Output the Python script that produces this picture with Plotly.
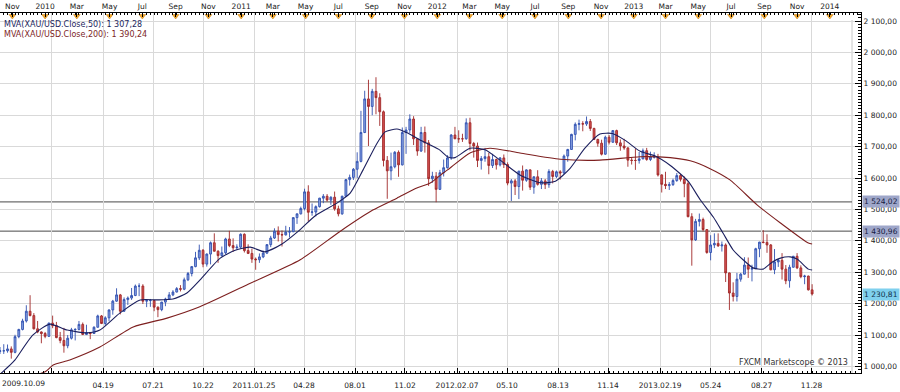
import plotly.graph_objects as go
import pandas as pd

# ---------------- data (weekly candles) ----------------
first_week = "2009-10-09"

week_open = [
    1048, 1050, 1050, 1056, 1045, 1095, 1118, 1145, 1176, 1162, 1120, 1110,
    1105, 1096, 1138, 1130, 1092, 1083, 1066, 1090, 1117, 1118, 1134, 1102, 1108,
    1105, 1125, 1161, 1137, 1155, 1180, 1208, 1228, 1176, 1213, 1218, 1226, 1256,
    1256, 1208, 1210, 1210, 1189, 1181, 1205, 1215, 1228, 1237, 1248, 1246, 1276,
    1296, 1318, 1346, 1370, 1326, 1358, 1394, 1367, 1353, 1362, 1406, 1385, 1378, 1380,
    1421, 1369, 1360, 1342, 1340, 1349, 1361, 1388, 1409, 1431, 1420, 1419,
    1428, 1429, 1474, 1486, 1503, 1556, 1491, 1492, 1509, 1536, 1542, 1530, 1539,
    1502, 1486, 1542, 1595, 1602, 1628, 1653, 1745, 1852, 1828, 1876, 1856, 1811, 1656,
    1623, 1636, 1682, 1642, 1745, 1753, 1788, 1725, 1686, 1745, 1712, 1598, 1606,
    1564, 1617, 1633, 1664, 1737, 1725, 1725, 1725, 1776, 1710, 1702, 1656, 1662,
    1668, 1640, 1659, 1642, 1664, 1643, 1584, 1591, 1573, 1622, 1593, 1626, 1571,
    1604, 1580, 1591, 1579, 1621, 1605, 1620, 1616, 1670, 1691, 1739, 1771, 1773,
    1772, 1780, 1758, 1723, 1711, 1676, 1730, 1714, 1751, 1712, 1702, 1696, 1657,
    1656, 1656, 1661, 1687, 1659, 1667, 1667, 1610, 1580, 1576, 1579, 1592, 1608,
    1596, 1582, 1477, 1403, 1462, 1468, 1436, 1363, 1387, 1392, 1384, 1387, 1298,
    1234, 1223, 1278, 1294, 1323, 1310, 1312, 1375, 1396, 1395, 1387, 1308, 1333,
    1338, 1310, 1273, 1316, 1351, 1314, 1286, 1288, 1244,
]
week_high = [
    1062, 1071, 1070, 1064, 1101, 1120, 1152, 1195, 1227, 1170, 1145, 1112,
    1110, 1140, 1162, 1142, 1110, 1123, 1100, 1123, 1122, 1145, 1140, 1133, 1110,
    1128, 1165, 1164, 1160, 1182, 1212, 1249, 1231, 1220, 1223, 1250, 1261, 1265,
    1262, 1214, 1215, 1212, 1191, 1206, 1219, 1237, 1243, 1253, 1259, 1283, 1301,
    1320, 1365, 1388, 1374, 1360, 1398, 1424, 1370, 1382, 1410, 1432, 1408, 1389, 1424,
    1424, 1389, 1375, 1347, 1360, 1369, 1390, 1416, 1440, 1446, 1433, 1448,
    1444, 1475, 1487, 1509, 1566, 1577, 1519, 1513, 1537, 1549, 1549, 1542, 1557,
    1512, 1544, 1597, 1611, 1632, 1682, 1814, 1878, 1913, 1884, 1921, 1870, 1815, 1670,
    1681, 1686, 1688, 1761, 1763, 1803, 1797, 1727, 1763, 1764, 1721, 1620, 1619,
    1626, 1659, 1673, 1740, 1763, 1752, 1741, 1790, 1792, 1715, 1713, 1670, 1696,
    1680, 1677, 1662, 1667, 1675, 1650, 1597, 1597, 1623, 1640, 1628, 1628, 1605,
    1625, 1600, 1597, 1628, 1626, 1624, 1625, 1675, 1693, 1741, 1777, 1786, 1781,
    1796, 1788, 1760, 1725, 1722, 1735, 1737, 1753, 1754, 1723, 1725, 1698, 1667,
    1694, 1683, 1694, 1696, 1684, 1682, 1677, 1612, 1620, 1587, 1598, 1616, 1613,
    1605, 1590, 1488, 1470, 1487, 1474, 1437, 1418, 1424, 1424, 1398, 1392, 1299,
    1268, 1298, 1298, 1348, 1347, 1324, 1378, 1397, 1434, 1421, 1390, 1374, 1343,
    1361, 1323, 1324, 1352, 1361, 1322, 1292, 1289, 1262,
]
week_low = [
    1040, 1040, 1044, 1025, 1042, 1090, 1115, 1140, 1160, 1118, 1106, 1074,
    1090, 1094, 1122, 1090, 1074, 1044, 1058, 1086, 1083, 1115, 1100, 1100, 1087,
    1104, 1124, 1135, 1130, 1144, 1165, 1206, 1166, 1174, 1196, 1212, 1224, 1224,
    1199, 1189, 1190, 1176, 1157, 1176, 1192, 1212, 1224, 1236, 1239, 1243, 1272,
    1287, 1316, 1339, 1316, 1318, 1325, 1366, 1330, 1350, 1357, 1380, 1365, 1372, 1375,
    1363, 1358, 1330, 1308, 1330, 1345, 1358, 1380, 1406, 1398, 1382, 1417,
    1411, 1428, 1454, 1484, 1497, 1462, 1480, 1478, 1506, 1520, 1525, 1515, 1496,
    1478, 1483, 1540, 1576, 1594, 1600, 1650, 1743, 1702, 1800, 1803, 1766, 1637, 1534,
    1593, 1631, 1604, 1640, 1677, 1743, 1705, 1671, 1683, 1681, 1575, 1585, 1523,
    1562, 1605, 1630, 1658, 1724, 1712, 1715, 1722, 1688, 1665, 1635, 1627, 1652,
    1612, 1632, 1627, 1637, 1632, 1577, 1527, 1546, 1533, 1560, 1588, 1562, 1550,
    1576, 1565, 1565, 1569, 1583, 1600, 1595, 1614, 1652, 1690, 1720, 1752, 1749,
    1766, 1750, 1721, 1700, 1672, 1674, 1707, 1712, 1705, 1687, 1690, 1636, 1643,
    1626, 1646, 1660, 1655, 1654, 1662, 1605, 1554, 1565, 1562, 1575, 1588, 1589,
    1539, 1475, 1321, 1400, 1446, 1430, 1359, 1338, 1377, 1381, 1366, 1269, 1180,
    1207, 1207, 1270, 1293, 1282, 1271, 1310, 1348, 1392, 1362, 1306, 1294, 1317,
    1277, 1262, 1251, 1315, 1310, 1281, 1262, 1242, 1226,
]
week_close = [
    1050, 1050, 1056, 1045, 1095, 1118, 1145, 1176, 1162, 1120, 1110, 1105,
    1096, 1138, 1130, 1092, 1083, 1066, 1090, 1117, 1118, 1134, 1102, 1108, 1105,
    1125, 1161, 1137, 1155, 1180, 1208, 1228, 1176, 1213, 1218, 1226, 1256, 1256,
    1208, 1210, 1210, 1189, 1181, 1205, 1215, 1228, 1237, 1248, 1246, 1276, 1296,
    1318, 1346, 1370, 1326, 1358, 1394, 1367, 1353, 1362, 1406, 1385, 1378, 1380, 1421,
    1369, 1360, 1342, 1340, 1349, 1361, 1388, 1409, 1431, 1420, 1419, 1428,
    1429, 1474, 1486, 1503, 1556, 1491, 1492, 1509, 1536, 1542, 1530, 1539, 1502,
    1486, 1542, 1595, 1602, 1628, 1653, 1745, 1852, 1828, 1876, 1856, 1811, 1656, 1623,
    1636, 1682, 1642, 1745, 1753, 1788, 1725, 1686, 1745, 1712, 1598, 1606, 1564,
    1617, 1633, 1664, 1737, 1725, 1725, 1725, 1776, 1710, 1702, 1656, 1662, 1668,
    1640, 1659, 1642, 1664, 1643, 1584, 1591, 1573, 1622, 1593, 1626, 1571, 1604,
    1580, 1591, 1579, 1621, 1605, 1620, 1616, 1670, 1691, 1739, 1771, 1773, 1772,
    1780, 1758, 1723, 1711, 1676, 1730, 1714, 1751, 1712, 1702, 1696, 1657, 1656,
    1656, 1661, 1687, 1659, 1667, 1667, 1610, 1580, 1576, 1579, 1592, 1608, 1596,
    1582, 1477, 1403, 1462, 1468, 1436, 1363, 1387, 1392, 1384, 1387, 1298, 1234,
    1223, 1278, 1294, 1323, 1310, 1312, 1375, 1396, 1395, 1387, 1308, 1333, 1338,
    1310, 1273, 1316, 1351, 1314, 1286, 1288, 1244, 1231,
]
week_dates = pd.date_range(first_week, periods=len(week_close), freq="7D")

ma50_dates = ['2009-10-09', '2009-10-28', '2009-11-06', '2009-12-09', '2010-01-10', '2010-02-11',
              '2010-03-20', '2010-04-13', '2010-05-20', '2010-06-27', '2010-07-28', '2010-08-27',
              '2010-09-22', '2010-10-16', '2010-11-23', '2010-12-21', '2011-01-18', '2011-02-14',
              '2011-03-18', '2011-04-17', '2011-05-19', '2011-06-29', '2011-07-23', '2011-08-16',
              '2011-09-11', '2011-09-26', '2011-10-18', '2011-11-06', '2011-11-30', '2011-12-19',
              '2012-01-06', '2012-01-21', '2012-02-03', '2012-03-02', '2012-03-30', '2012-04-27',
              '2012-06-03', '2012-07-11', '2012-08-08', '2012-09-04', '2012-10-02', '2012-10-30',
              '2012-11-22', '2012-12-16', '2013-01-13', '2013-02-10', '2013-03-10', '2013-04-12',
              '2013-05-05', '2013-05-29', '2013-06-16', '2013-07-05', '2013-07-24', '2013-08-11',
              '2013-08-30', '2013-09-16', '2013-10-01', '2013-10-19', '2013-11-01', '2013-11-22',
              '2013-11-29']
ma50_vals = [975, 1005, 1021, 1100, 1135, 1116, 1107, 1116, 1170, 1212, 1212, 1215, 1234, 1275,
             1345, 1370, 1380, 1365, 1390, 1430, 1480, 1521, 1552, 1626, 1711, 1747, 1756, 1744,
             1721, 1705, 1689, 1667, 1665, 1695, 1690, 1657, 1610, 1585, 1590, 1630, 1695, 1740,
             1742, 1720, 1685, 1670, 1640, 1590, 1530, 1476, 1425, 1371, 1339, 1314, 1310, 1333,
             1345, 1349, 1342, 1310, 1307.28]

ma200_dates = ['2009-10-09', '2009-11-20', '2010-01-01', '2010-01-16', '2010-02-16', '2010-04-13',
               '2010-06-14', '2010-08-16', '2010-10-16', '2011-01-18', '2011-04-21', '2011-07-04',
               '2011-09-03', '2011-10-18', '2011-11-24', '2011-12-19', '2012-01-12', '2012-01-25',
               '2012-03-02', '2012-04-08', '2012-06-03', '2012-08-17', '2012-10-30', '2013-01-13',
               '2013-03-10', '2013-04-16', '2013-05-23', '2013-06-29', '2013-08-19', '2013-10-01',
               '2013-11-22', '2013-11-29']
ma200_vals = [940, 962, 983, 1005, 1021, 1062, 1126, 1154, 1190, 1265, 1340, 1430, 1498, 1536,
              1568, 1584, 1616, 1632, 1680, 1695, 1680, 1660, 1657, 1668, 1665, 1655, 1630, 1594,
              1514, 1457, 1393, 1390.24]

level_lines = [1524.02, 1430.96]
level_texts = ["1\u00a0524,02", "1\u00a0430,96"]
last_price = 1230.81
last_price_text = "1\u00a0230,81"

legend_texts = ["MVA(XAU/USD.Close,50): 1 307,28", "MVA(XAU/USD.Close,200): 1 390,24"]

bottom_tick_dates = ['2009-10-09', '2010-01-13', '2010-04-19', '2010-07-21', '2010-10-22',
                     '2011-01-25', '2011-04-28', '2011-08-01', '2011-11-02', '2012-02-07',
                     '2012-05-10', '2012-08-13', '2012-11-14', '2013-02-19', '2013-05-24',
                     '2013-08-27', '2013-11-28']
bottom_tick_text = ['', '', '04.19', '07.21', '10.22', '2011.01.25', '04.28', '08.01', '11.02',
                    '2012.02.07', '05.10', '08.13', '11.14', '2013.02.19', '05.24', '08.27', '11.28']
first_date_label = "2009.10.09"

top_tick_dates = ['2009-11-01', '2010-01-01', '2010-03-01', '2010-05-01', '2010-07-01', '2010-09-01',
                  '2010-11-01', '2011-01-01', '2011-03-01', '2011-05-01', '2011-07-01', '2011-09-01',
                  '2011-11-01', '2012-01-01', '2012-03-01', '2012-05-01', '2012-07-01', '2012-09-01',
                  '2012-11-01', '2013-01-01', '2013-03-01', '2013-05-01', '2013-07-01', '2013-09-01',
                  '2013-11-01', '2014-01-01']
top_tick_text = ['Nov', '2010', 'Mar', 'May', 'Jul', 'Sep', 'Nov', '2011', 'Mar', 'May', 'Jul', 'Sep',
                 'Nov', '2012', 'Mar', 'May', 'Jul', 'Sep', 'Nov', '2013', 'Mar', 'May', 'Jul', 'Sep',
                 'Nov', '2014']

price_ticks = [1000, 1100, 1200, 1300, 1400, 1500, 1600, 1700, 1800, 1900, 2000, 2100]
price_tick_text = ['1\u00a0000,00', '1\u00a0100,00', '1\u00a0200,00', '1\u00a0300,00', '1\u00a0400,00',
                   '1\u00a0500,00', '1\u00a0600,00', '1\u00a0700,00', '1\u00a0800,00', '1\u00a0900,00',
                   '2\u00a0000,00', '2\u00a0100,00']

x_range = ['2009-10-09', '2014-02-28']
y_range = [979.3, 2125.5]

# ---------------- figure ----------------
W, H = 900, 392
ML, MR, MT, MB = 0, 39, 13, 19
PW, PH = W - ML - MR, H - MT - MB
FONT = "DejaVu Sans"


def py(px):  # pixel row -> paper fraction
    return (H - MB - px) / PH


def px_x(px):  # pixel col -> paper fraction
    return (px - ML) / PW


fig = go.Figure()

fig.add_trace(go.Candlestick(
    x=week_dates, open=week_open, high=week_high, low=week_low, close=week_close,
    increasing=dict(line=dict(color="#3050b0", width=0.9), fillcolor="#8aa4e4"),
    decreasing=dict(line=dict(color="#a02828", width=0.9), fillcolor="#d45050"),
    whiskerwidth=0, showlegend=False, hoverinfo="skip",
))
fig.add_trace(go.Scatter(
    x=ma200_dates, y=ma200_vals, mode="lines",
    line=dict(color="#7d1f1f", width=1.1, shape="spline", smoothing=0.6),
    showlegend=False, hoverinfo="skip",
))
fig.add_trace(go.Scatter(
    x=ma50_dates, y=ma50_vals, mode="lines",
    line=dict(color="#1b1f5e", width=1.1, shape="spline", smoothing=0.6),
    showlegend=False, hoverinfo="skip", xaxis="x2",
))
# orange month markers hanging under the top time axis
fig.add_trace(go.Scatter(
    x=top_tick_dates, y=[py(16)] * len(top_tick_dates), mode="markers",
    marker=dict(symbol="triangle-down", size=6, color="#f2a62a", line=dict(color="#c98012", width=0.5)),
    xaxis="x2", yaxis="y2", cliponaxis=False, showlegend=False, hoverinfo="skip",
))

shapes = []
# mask gridlines in the axis strips
shapes.append(dict(type="rect", xref="paper", yref="paper", x0=0, x1=1, y0=py(20), y1=1,
                   fillcolor="white", line=dict(width=0), layer="between"))
shapes.append(dict(type="rect", xref="paper", yref="paper", x0=px_x(852), x1=1, y0=0, y1=1,
                   fillcolor="white", line=dict(width=0), layer="between"))
shapes.append(dict(type="line", xref="paper", yref="paper", x0=px_x(852), x1=px_x(852), y0=0, y1=py(20),
                   line=dict(color="#c8c8c8", width=1), layer="between"))
for lv in level_lines:
    shapes.append(dict(type="line", xref="paper", yref="y", x0=0, x1=px_x(852), y0=lv, y1=lv,
                       line=dict(color="#4a4a4a", width=1), layer="between"))

annotations = []
for i, t in enumerate(legend_texts):
    annotations.append(dict(xref="paper", yref="paper", x=0, y=py(24 + 10 * i), xanchor="left",
                            yanchor="middle", xshift=2, text=t, showarrow=False,
                            font=dict(family=FONT, size=8, color=["#1b1f5e", "#7d1f1f"][i])))
annotations.append(dict(xref="paper", yref="paper", x=0, y=py(384), xanchor="left", yanchor="middle",
                        text=first_date_label, showarrow=False,
                        font=dict(family=FONT, size=7.5, color="#222")))
annotations.append(dict(xref="paper", yref="paper", x=px_x(850), y=py(362), xanchor="right",
                        yanchor="middle", text="FXCM Marketscope © 2013", showarrow=False,
                        font=dict(family=FONT, size=8, color="#333")))
for lv, t in zip(level_lines, level_texts):
    annotations.append(dict(xref="paper", yref="y", x=1, y=lv, xanchor="left", yanchor="middle",
                            xshift=1, text=t, showarrow=False, bgcolor="#9ea6c9", borderpad=1,
                            font=dict(family=FONT, size=7.5, color="#141a40")))
annotations.append(dict(xref="paper", yref="y", x=1, y=last_price, xanchor="left", yanchor="middle",
                        xshift=1, text=last_price_text, showarrow=False, bgcolor="#7fd0ee", borderpad=1,
                        font=dict(family=FONT, size=7.5, color="#10304a")))

fig.update_layout(
    width=W, height=H,
    margin=dict(l=ML, r=MR, t=MT, b=MB, pad=0),
    paper_bgcolor="white", plot_bgcolor="white",
    font=dict(family=FONT, size=7.5, color="#222"),
    showlegend=False, hovermode=False,
    shapes=shapes, annotations=annotations,
    xaxis=dict(
        type="date", range=x_range, rangeslider=dict(visible=False),
        tickmode="array", tickvals=bottom_tick_dates, ticktext=bottom_tick_text,
        ticks="inside", ticklen=5, tickcolor="#000", tickwidth=1, ticklabelstandoff=5,
        showline=True, linecolor="#000", linewidth=1, mirror=False,
        showgrid=True, gridcolor="#d9d9d9", gridwidth=1, zeroline=False,
        tickfont=dict(family=FONT, size=7.5, color="#222"),
        minor=dict(tickmode="linear", tick0="2009-10-09", dtick=9 * 86400000,
                   ticks="inside", ticklen=2, tickcolor="#000", showgrid=False),
    ),
    xaxis2=dict(
        type="date", range=x_range, overlaying="x", side="top", anchor="y",
        tickmode="array", tickvals=top_tick_dates, ticktext=top_tick_text,
        ticks="inside", ticklen=4, tickcolor="#000",
        showline=True, linecolor="#000", linewidth=1,
        showgrid=False, zeroline=False,
        tickfont=dict(family=FONT, size=7.5, color="#222"),
        minor=dict(tickmode="linear", tick0="2009-10-09", dtick=7 * 86400000,
                   ticks="inside", ticklen=2, tickcolor="#000", showgrid=False),
    ),
    yaxis=dict(
        range=y_range, side="right", tickmode="array", tickvals=price_ticks, ticktext=price_tick_text,
        ticks="inside", ticklen=6, tickcolor="#000",
        showline=True, linecolor="#000", linewidth=1,
        showgrid=True, gridcolor="#d9d9d9", gridwidth=1, zeroline=False,
        tickfont=dict(family=FONT, size=7.5, color="#222"),
        minor=dict(tickmode="linear", tick0=1000, dtick=10, ticks="inside", ticklen=3,
                   tickcolor="#000", showgrid=False),
    ),
    yaxis2=dict(range=[0, 1], overlaying="y", visible=False, fixedrange=True),
)

fig.write_html("out.html", config={"displayModeBar": False},
               post_script="document.body.style.margin='0px';")
